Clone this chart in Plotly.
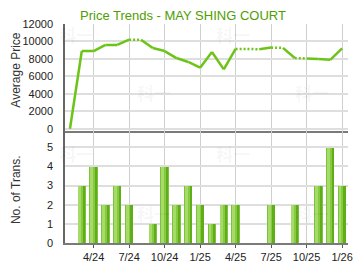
import plotly.graph_objects as go

months = ["2/24", "3/24", "4/24", "5/24", "6/24", "7/24", "8/24", "9/24", "10/24",
          "11/24", "12/24", "1/25", "2/25", "3/25", "4/25", "5/25", "6/25", "7/25",
          "8/25", "9/25", "10/25", "11/25", "12/25", "1/26"]
avg_price = [0, 8900, 8900, 9600, 9600, 10200, 10200, 9250, 8900, 8100, 7650, 7000,
             8800, 6800, 9150, 9150, 9100, 9300, 9260, 8100, 8050, 7980, 7900, 9200]
transactions = [0, 3, 4, 2, 3, 2, 0, 1, 4, 2, 3, 2, 1, 2, 2, 0, 0, 2, 0, 2, 0, 3, 5, 3]
tick_labels = ["4/24", "7/24", "10/24", "1/25", "4/25", "7/25", "10/25", "1/26"]
price_ticks = [0, 2000, 4000, 6000, 8000, 10000, 12000]
count_ticks = [0, 1, 2, 3, 4, 5]
title_text = "Price Trends - MAY SHING COURT"

FONT = "Arial, Liberation Sans, sans-serif"
LINE_GREEN = "#6cc417"
TITLE_GREEN = "#4f9e00"

xs = list(range(len(months)))
tickvals = [months.index(t) for t in tick_labels]

# plot geometry in pixels
L, R, T, B = 65, 353, 24, 244
SPLIT = 131
W, H = 360, 270


def px(x):
    return (x - L) / (R - L)


def py(y):
    return (B - y) / (B - T)


split_frac = py(SPLIT)

# build solid / dotted segments (dotted into months with no transactions)
solid_x, solid_y, dot_x, dot_y = [], [], [], []
for i in range(len(xs) - 1):
    seg_x = [xs[i], xs[i + 1], None]
    seg_y = [avg_price[i], avg_price[i + 1], None]
    if transactions[i + 1] == 0 and i > 0:
        dot_x += seg_x
        dot_y += seg_y
    else:
        solid_x += seg_x
        solid_y += seg_y

fig = go.Figure()
fig.add_trace(go.Scatter(x=solid_x, y=solid_y, mode="lines", xaxis="x", yaxis="y",
                         line=dict(color=LINE_GREEN, width=2.5), hoverinfo="skip",
                         showlegend=False))
fig.add_trace(go.Scatter(x=dot_x, y=dot_y, mode="lines", xaxis="x", yaxis="y",
                         line=dict(color=LINE_GREEN, width=2.5, dash="2px,2px"),
                         hoverinfo="skip", showlegend=False))

bar_w = 0.7
bx = [x for x, c in zip(xs, transactions) if c > 0]
by = [c for c in transactions if c > 0]
layers = [
    (0.0, bar_w, "#7cc23c"),
    (0.06, bar_w - 0.12, "#a6db6a"),
    (0.3, 0.34, "#86ca42"),
    (0.46, 0.18, "#5fae18"),
]
for off, w, col in layers:
    fig.add_trace(go.Bar(x=bx, y=by, xaxis="x2", yaxis="y2", width=w,
                         offset=-bar_w / 2 + off, marker=dict(color=col, line=dict(width=0)),
                         hoverinfo="skip", showlegend=False))

axis_common = dict(range=[-0.42, 23.5], tickvals=tickvals, showgrid=True,
                   gridcolor="#cfcfcf", gridwidth=1, zeroline=False,
                   showline=True, linecolor="#7a7a7a", linewidth=2)

fig.update_layout(
    width=W, height=H,
    margin=dict(l=L, r=W - R, t=T, b=H - B),
    paper_bgcolor="white", plot_bgcolor="white",
    barmode="overlay", bargap=0,
    font=dict(family=FONT, size=11, color="#222"),
    xaxis=dict(**axis_common, anchor="y", showticklabels=False, ticks=""),
    yaxis=dict(domain=[split_frac, 1], range=[-200, 12000], tickvals=price_ticks,
               ticktext=[str(v) for v in price_ticks],
               showgrid=True, gridcolor="#dedede", gridwidth=1.5, zeroline=False,
               showline=True, linecolor="#666", linewidth=1.5, ticks="",
               ticklabelstandoff=8, tickfont=dict(size=11, color="#222")),
    xaxis2=dict(**axis_common, anchor="y2", ticktext=tick_labels, ticks="outside",
                ticklen=3, tickcolor="#555", tickwidth=1,
                tickfont=dict(size=11, color="#222")),
    yaxis2=dict(domain=[0, split_frac], range=[0, 5.87], tickvals=count_ticks,
                ticktext=[str(v) for v in count_ticks],
                showgrid=True, gridcolor="#dedede", gridwidth=1.5, zeroline=False,
                showline=True, linecolor="#666", linewidth=1.5, ticks="",
                ticklabelstandoff=8, tickfont=dict(size=11, color="#222")),
)

annotations = [
    dict(text=title_text, xref="paper", yref="paper", x=px(78), y=py(15),
         xanchor="left", yanchor="middle", showarrow=False,
         font=dict(family=FONT, size=13, color=TITLE_GREEN)),
    dict(text="Average Price", xref="paper", yref="paper", x=px(15), y=py(70),
         xanchor="center", yanchor="middle", textangle=-90, showarrow=False,
         font=dict(family=FONT, size=12, color="#333")),
    dict(text="No. of Trans.", xref="paper", yref="paper", x=px(15), y=py(190),
         xanchor="center", yanchor="middle", textangle=-90, showarrow=False,
         font=dict(family=FONT, size=12, color="#333")),
]
for wx, wy in [(76, 35), (156, 93), (236, 35), (316, 93),
               (76, 154), (156, 214), (236, 154), (316, 214)]:
    annotations.append(dict(text="<b>科一</b>", xref="paper", yref="paper",
                            x=px(wx), y=py(wy), xanchor="center", yanchor="middle",
                            showarrow=False,
                            font=dict(family="Noto Sans CJK SC", size=17,
                                      color="rgba(0,0,0,0.05)")))
fig.update_layout(annotations=annotations)

fig.write_html("out.html")
